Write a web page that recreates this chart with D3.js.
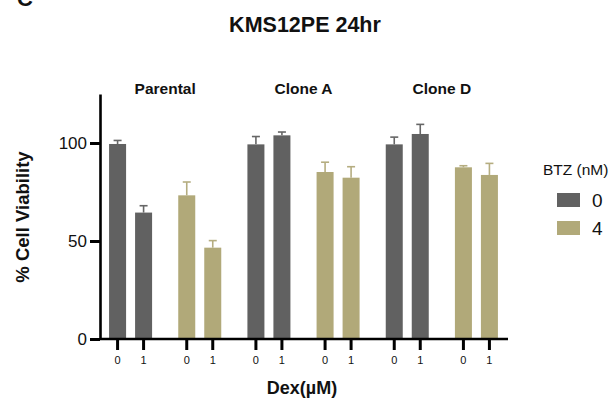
<!DOCTYPE html>
<html>
<head>
<meta charset="utf-8">
<script src="https://cdn.jsdelivr.net/npm/d3@7"></script>
<style>
    body { margin: 0; background: #fff; }
    text { font-family: 'Liberation Sans', Arial, sans-serif; fill: #111; }
</style>
</head>
<body>
<div id="chart"></div>
<script>
// data
const groups = ['Parental', 'Clone A', 'Clone D'];
const btzLevels = ['0', '4'];
const dexLevels = ['0', '1'];
// means / SD ordered as group x dex
const btz0Mean = [99.5, 64.5, 99.3, 103.9, 99.3, 104.6];
const btz0Err  = [1.8, 3.5, 4.0, 1.7, 3.7, 4.9];
const btz4Mean = [73.3, 46.6, 85.2, 82.3, 87.6, 83.7];
const btz4Err  = [6.8, 3.6, 5.0, 5.6, 0.8, 5.9];
const yTicks = [0, 50, 100];

const colors = { '0': '#616161', '4': '#b1a979' };
const errColors = { '0': '#666666', '4': '#b5ad80' };

const width = 612, height = 400;

const svg = d3.select('#chart')
    .append('svg')
    .attr('width', width)
    .attr('height', height);

// build rows
const rows = [];
groups.forEach((g, gi) => {
    btzLevels.forEach(b => {
        dexLevels.forEach((d, di) => {
            const i = gi * 2 + di;
            rows.push({
                group: g, btz: b, dex: d, key: g + '|' + b,
                mean: b === '0' ? btz0Mean[i] : btz4Mean[i],
                err: b === '0' ? btz0Err[i] : btz4Err[i]
            });
        });
    });
});

const pairKeys = [];
groups.forEach(g => btzLevels.forEach(b => pairKeys.push(g + '|' + b)));

// scales
const y = d3.scaleLinear().domain([0, 125]).range([339, 94]);
const x0 = d3.scaleBand().domain(pairKeys).range([96, 511]).padding(0);
const x1 = d3.scaleBand().domain(dexLevels).range([0, x0.bandwidth()])
    .paddingInner(0.346).paddingOuter(0.503);

// bars
svg.selectAll('.bar')
    .data(rows)
    .enter().append('rect')
    .attr('class', 'bar')
    .attr('x', d => x0(d.key) + x1(d.dex))
    .attr('width', x1.bandwidth())
    .attr('y', d => y(d.mean))
    .attr('height', d => y(0) - y(d.mean))
    .style('fill', d => colors[d.btz]);

// error bars (upper only)
const eb = svg.selectAll('.err')
    .data(rows)
    .enter().append('g')
    .attr('class', 'err')
    .attr('transform', d => 'translate(' + (x0(d.key) + x1(d.dex) + x1.bandwidth() / 2) + ',0)')
    .style('stroke', d => errColors[d.btz])
    .style('stroke-width', 1.6);
eb.append('line')
    .attr('y1', d => y(d.mean))
    .attr('y2', d => y(d.mean + d.err));
eb.append('line')
    .attr('x1', -4).attr('x2', 4)
    .attr('y1', d => y(d.mean + d.err))
    .attr('y2', d => y(d.mean + d.err));

// y axis
const yAxis = svg.append('g')
    .attr('transform', 'translate(100,0)')
    .call(d3.axisLeft(y).tickValues(yTicks).tickSize(10).tickSizeOuter(0).tickPadding(3));
yAxis.select('.domain').style('stroke', '#000').style('stroke-width', 2.6);
yAxis.selectAll('.tick line').style('stroke', '#000').style('stroke-width', 3);
yAxis.selectAll('.tick text')
    .style('font-size', '17px')
    .style('font-family', "'Liberation Sans', Arial, sans-serif")
    .style('fill', '#111');

// x axis: one base line plus ticks for each pair
svg.append('line')
    .attr('x1', 100).attr('x2', 508)
    .attr('y1', y(0)).attr('y2', y(0))
    .style('stroke', '#000').style('stroke-width', 2.6);

pairKeys.forEach(k => {
    const ax = svg.append('g')
        .attr('transform', 'translate(' + x0(k) + ',' + y(0) + ')')
        .call(d3.axisBottom(x1).tickSize(11).tickPadding(6));
    ax.select('.domain').remove();
    ax.selectAll('.tick line').style('stroke', '#000').style('stroke-width', 3);
    ax.selectAll('.tick text')
        .style('font-size', '11px')
        .style('font-family', "'Liberation Sans', Arial, sans-serif")
        .style('fill', '#111');
});

// group labels
svg.selectAll('.grp')
    .data(groups)
    .enter().append('text')
    .attr('class', 'grp')
    .attr('x', g => (x0(g + '|0') + x0(g + '|4') + x0.bandwidth()) / 2)
    .attr('y', 94)
    .attr('text-anchor', 'middle')
    .style('font-size', '15.5px')
    .style('font-weight', 'bold')
    .text(g => g);

// titles
svg.append('text')
    .attr('x', 305).attr('y', 32)
    .attr('text-anchor', 'middle')
    .style('font-size', '21.5px')
    .style('font-weight', 'bold')
    .text('KMS12PE 24hr');

svg.append('text')
    .attr('x', 17).attr('y', 6)
    .style('font-size', '22px')
    .style('font-weight', 'bold')
    .text('C');

svg.append('text')
    .attr('transform', 'translate(22,217) rotate(-90)')
    .attr('text-anchor', 'middle')
    .attr('dominant-baseline', 'central')
    .style('font-size', '18.5px')
    .style('font-weight', 'bold')
    .text('% Cell Viability');

svg.append('text')
    .attr('x', 302).attr('y', 394)
    .attr('text-anchor', 'middle')
    .style('font-size', '18px')
    .style('font-weight', 'bold')
    .text('Dex(µM)');

// legend
const legend = svg.append('g').attr('transform', 'translate(543,0)');
legend.append('text')
    .attr('x', 0).attr('y', 175)
    .style('font-size', '15.5px')
    .text('BTZ (nM)');
const li = legend.selectAll('.li')
    .data(btzLevels)
    .enter().append('g')
    .attr('class', 'li')
    .attr('transform', (d, i) => 'translate(0,' + (193 + i * 28) + ')');
li.append('rect')
    .attr('x', 14).attr('width', 23).attr('height', 14)
    .style('fill', d => colors[d]);
li.append('text')
    .attr('x', 49).attr('y', 7)
    .attr('dominant-baseline', 'central')
    .style('font-size', '19px')
    .text(d => d);
</script>
</body>
</html>
